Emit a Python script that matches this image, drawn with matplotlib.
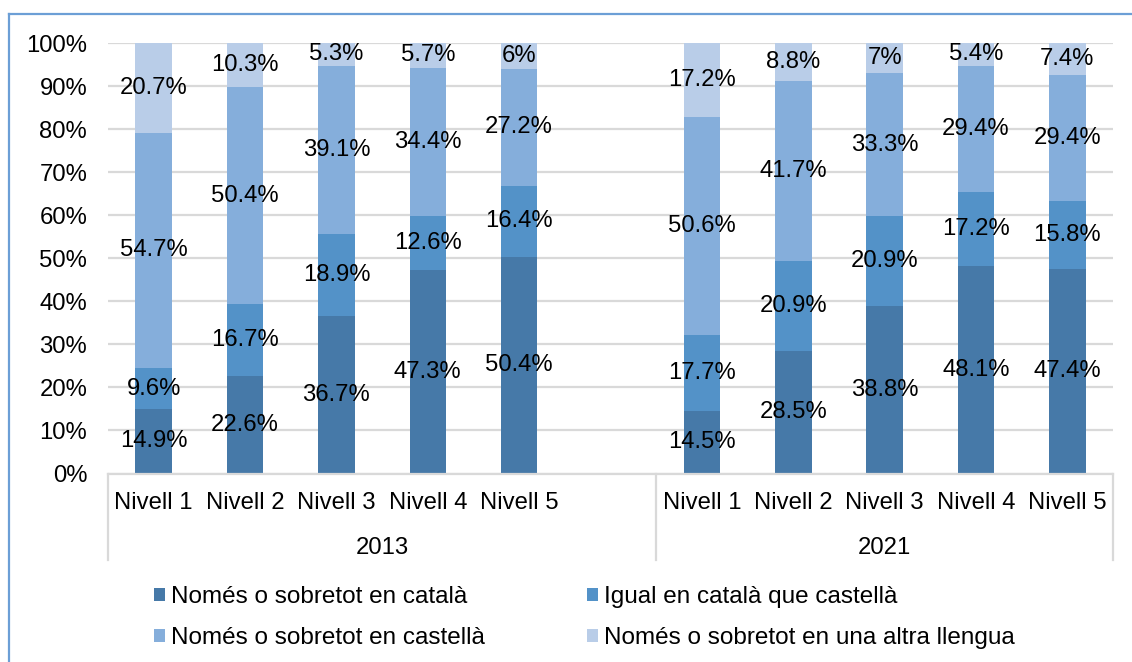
import numpy as np
import matplotlib
matplotlib.use('Agg')
import matplotlib.pyplot as plt
from matplotlib.lines import Line2D
from matplotlib.transforms import blended_transform_factory

plt.rcParams['font.family'] = ['Liberation Sans', 'DejaVu Sans']

years = ['2013', '2021']
levels = ['Nivell 1', 'Nivell 2', 'Nivell 3', 'Nivell 4', 'Nivell 5']
series = ['Només o sobretot en català', 'Igual en català que castellà',
          'Només o sobretot en castellà', 'Només o sobretot en una altra llengua']
colors = ['#4679A8', '#5392C8', '#85AEDB', '#B9CDE8']

# values per year: one list per series, one value per level
catala_2013 = [14.9, 22.6, 36.7, 47.3, 50.4]
igual_2013 = [9.6, 16.7, 18.9, 12.6, 16.4]
castella_2013 = [54.7, 50.4, 39.1, 34.4, 27.2]
altra_2013 = [20.7, 10.3, 5.3, 5.7, 6.0]

catala_2021 = [14.5, 28.5, 38.8, 48.1, 47.4]
igual_2021 = [17.7, 20.9, 20.9, 17.2, 15.8]
castella_2021 = [50.6, 41.7, 33.3, 29.4, 29.4]
altra_2021 = [17.2, 8.8, 7.0, 5.4, 7.4]

data = {
    '2013': [catala_2013, igual_2013, castella_2013, altra_2013],
    '2021': [catala_2021, igual_2021, castella_2021, altra_2021],
}

def fmt(v):
    s = '%.1f' % v
    if s.endswith('.0'):
        s = s[:-2]
    return s + '%'

fig = plt.figure(figsize=(11.32, 6.62), dpi=100)
ax = fig.add_axes([108/1132, 1-473.5/662, 1005/1132, 430.5/662])

FS = 17.2
xticks = []
xlabels = []
for g, yr in enumerate(years):
    x = np.arange(len(levels)) + 6*g
    bottom = np.zeros(len(levels))
    for s, vals in enumerate(data[yr]):
        vals = np.array(vals)
        ax.bar(x, vals, 0.4, bottom=bottom, color=colors[s], label=series[s] if g == 0 else None,
               zorder=3, linewidth=0)
        for xi, b, v in zip(x, bottom, vals):
            ax.text(xi, b + v/2, fmt(v), ha='center', va='center', fontsize=FS, zorder=4)
        bottom = bottom + vals
    xticks += list(x)
    xlabels += levels

ax.set_xlim(-0.5, 10.5)
ax.set_ylim(0, 100)
ax.set_yticks(np.arange(0, 101, 10))
ax.set_yticklabels(['%d%%' % v for v in np.arange(0, 101, 10)], fontsize=FS)
ax.set_xticks(xticks)
ax.set_xticklabels(xlabels, fontsize=FS)
ax.tick_params(axis='y', length=0, pad=15)
ax.tick_params(axis='x', length=0, pad=13)
ax.grid(axis='y', color='#D9D9D9', linewidth=1.6, zorder=0)
for sp in ['left', 'right', 'top']:
    ax.spines[sp].set_visible(False)
ax.spines['bottom'].set_color('#D9D9D9')
ax.spines['bottom'].set_linewidth(1.6)
ax.spines['bottom'].set_zorder(5)

# category axis separators and year labels
tr = blended_transform_factory(ax.transData, ax.transAxes)
for xs in [-0.5, 5.5, 10.5]:
    ax.plot([xs, xs], [0, -0.2], color='#D9D9D9', lw=1.6, transform=tr, clip_on=False)
ax.text(2.5, -0.172, years[0], ha='center', va='center', fontsize=FS, transform=tr)
ax.text(8.0, -0.172, years[1], ha='center', va='center', fontsize=FS, transform=tr)

# legend (ordered row-wise)
h, l = ax.get_legend_handles_labels()
order = [0, 2, 1, 3]
fig.legend([h[i] for i in order], [l[i] for i in order], ncol=2, loc='upper left',
           bbox_to_anchor=(142/1132, 1-574/662), frameon=False, fontsize=17.5,
           handlelength=0.45, handleheight=0.45, handletextpad=0.25,
           columnspacing=4.2, labelspacing=0.78, borderpad=0)

# outer border
bc = '#6C9FD6'
fig.add_artist(Line2D([8.5/1132, 1], [1-13.5/662, 1-13.5/662], color=bc, lw=1.6))
fig.add_artist(Line2D([8.5/1132, 8.5/1132], [0, 1-13.5/662], color=bc, lw=1.6))

fig.savefig('out.png', dpi=100)
